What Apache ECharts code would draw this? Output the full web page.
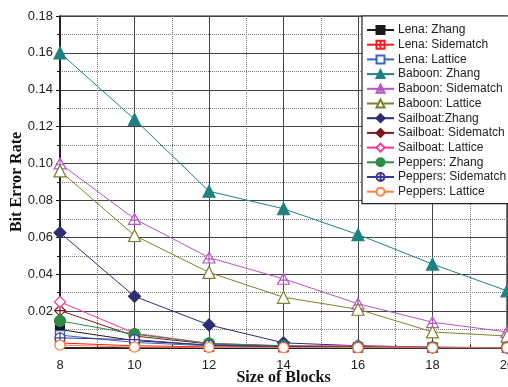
<!DOCTYPE html>
<html><head><meta charset="utf-8">
<script src="https://cdn.jsdelivr.net/npm/echarts@6/dist/echarts.min.js"></script>
<style>html,body{margin:0;padding:0;background:#fff}#c{width:508px;height:387px}</style>
</head><body><div id="c"></div>
<script>
var blockSizes = [8, 10, 12, 14, 16, 18, 20];
var lenaZhang = [0.0100, 0.0040, 0.0015, 0.0008, 0.0004, 0.0002, 0.0001];
var lenaSidematch = [0.0027, 0.0012, 0.0006, 0.0003, 0.0002, 0.0001, 0.0001];
var lenaLattice = [0.0070, 0.0030, 0.0012, 0.0006, 0.0003, 0.0002, 0.0001];
var baboonZhang = [0.160, 0.124, 0.085, 0.0755, 0.0615, 0.0455, 0.031];
var baboonSidematch = [0.100, 0.070, 0.049, 0.0375, 0.024, 0.014, 0.0087];
var baboonLattice = [0.096, 0.061, 0.041, 0.0275, 0.021, 0.0087, 0.0065];
var sailboatZhang = [0.0625, 0.028, 0.0125, 0.0028, 0.0012, 0.0004, 0.0002];
var sailboatSidematch = [0.0203, 0.0065, 0.0022, 0.0010, 0.0006, 0.0003, 0.0002];
var sailboatLattice = [0.0250, 0.0080, 0.0025, 0.0012, 0.0012, 0.0004, 0.0002];
var peppersZhang = [0.0147, 0.0075, 0.0025, 0.0012, 0.0006, 0.0003, 0.0002];
var peppersSidematch = [0.0055, 0.0045, 0.0015, 0.0008, 0.0004, 0.0002, 0.0001];
var peppersLattice = [0.0016, 0.0005, 0.0003, 0.0002, 0.0002, 0.0001, 0.0001];
var yTicks = [0.02, 0.04, 0.06, 0.08, 0.10, 0.12, 0.14, 0.16, 0.18];

var SQ_PLUS = 'path://M0,0H10V10H0Z M5,0V10 M0,5H10';
var TRI_PLUS = 'path://M5,0L10,9H0Z M5,0V9 M2,5.5H8';
var DIA_PLUS = 'path://M5,0L10,5L5,10L0,5Z M5,0V10 M0,5H10';
var CIR_PLUS = 'path://M5,0A5,5,0,1,1,4.99,0Z M5,0V10 M0,5H10';

function mk(name, data, color, symbol, filled, size) {
  return {
    name: name, type: 'line', data: data.map(function (v, i) { return [blockSizes[i], v]; }),
    symbol: symbol, symbolSize: size || 10, symbolKeepAspect: true,
    lineStyle: { color: color, width: 1 },
    itemStyle: { color: filled ? color : '#fff', borderColor: color, borderWidth: 1.2 },
    emphasis: { disabled: true }, animation: false
  };
}

var series = [
  mk('Lena: Zhang', lenaZhang, '#1a1a1a', 'rect', true, 9),
  mk('Lena: Sidematch', lenaSidematch, '#ff1a1a', SQ_PLUS, false, 9),
  mk('Lena: Lattice', lenaLattice, '#3a64c0', 'rect', false, 9),
  mk('Baboon: Zhang', baboonZhang, '#218181', 'triangle', true, 12),
  mk('Baboon: Sidematch', baboonSidematch, '#b455c0', TRI_PLUS, false, 12),
  mk('Baboon: Lattice', baboonLattice, '#7f7f2e', 'triangle', false, 12),
  mk('Sailboat:Zhang', sailboatZhang, '#2e2e72', 'diamond', true, 12),
  mk('Sailboat: Sidematch', sailboatSidematch, '#7a1a1a', DIA_PLUS, false, 11),
  mk('Sailboat: Lattice', sailboatLattice, '#ff3399', 'diamond', false, 11),
  mk('Peppers: Zhang', peppersZhang, '#2e8b46', 'circle', true, 11),
  mk('Peppers: Sidematch', peppersSidematch, '#3a3a96', CIR_PLUS, false, 10),
  mk('Peppers: Lattice', peppersLattice, '#ff8040', 'circle', false, 10)
];

var chart = echarts.init(document.getElementById('c'), null, { renderer: 'canvas' });
chart.setOption({
  animation: false,
  backgroundColor: '#fff',
  grid: { left: 60, right: 1, top: 16, bottom: 39, outerBoundsMode: 'none', containLabel: false, show: true, borderColor: '#222', borderWidth: 1.2, backgroundColor: 'transparent' },
  legend: {
    orient: 'vertical', left: 362, top: 16, padding: [8, 3, 6, 4],
    itemWidth: 27, itemHeight: 10, itemGap: 2.7,
    backgroundColor: '#fff', borderColor: '#222', borderWidth: 1.2,
    textStyle: { fontFamily: 'Liberation Sans', fontSize: 12, color: '#222', padding: [0, 0, 0, -1] },
    data: series.map(function (s) { return s.name; })
  },
  xAxis: {
    type: 'value', min: 8, max: 20, interval: 2,
    name: 'Size of Blocks', nameLocation: 'middle', nameGap: 30, nameMoveOverlap: false,
    nameTextStyle: { fontFamily: 'Liberation Serif', fontWeight: 'bold', fontSize: 16, color: '#111', verticalAlign: 'middle' },
    axisLine: { show: true, lineStyle: { color: '#111', width: 1.5 } },
    axisTick: { show: true, inside: true, length: 5, lineStyle: { color: '#111' } },
    minorTick: { show: true, splitNumber: 2, length: 3, lineStyle: { color: '#111' } },
    axisLabel: { fontFamily: 'Liberation Sans', fontSize: 13, color: '#222', margin: 11 },
    splitLine: { show: true, lineStyle: { color: '#444', width: 1 } },
    minorSplitLine: { show: true, lineStyle: { color: '#777', type: [1, 1], width: 1 } }
  },
  yAxis: {
    type: 'value', min: 0, max: 0.18, interval: 0.02,
    name: 'Bit Error Rate', nameLocation: 'middle', nameGap: 43, nameMoveOverlap: false,
    nameTextStyle: { fontFamily: 'Liberation Serif', fontWeight: 'bold', fontSize: 16, color: '#111', verticalAlign: 'middle' },
    axisLine: { show: true, lineStyle: { color: '#111', width: 1.5 } },
    axisTick: { show: true, inside: false, length: 4, lineStyle: { color: '#111' } },
    minorTick: { show: true, splitNumber: 2, length: 3, lineStyle: { color: '#111' } },
    axisLabel: {
      fontFamily: 'Liberation Sans', fontSize: 13, color: '#222', margin: 7, showMinLabel: false,
      formatter: function (v) { var t = yTicks.filter(function (k) { return Math.abs(k - v) < 1e-9; }); return t.length ? t[0].toFixed(2) : ''; }
    },
    splitLine: { show: true, lineStyle: { color: '#444', width: 1 } },
    minorSplitLine: { show: true, lineStyle: { color: '#777', type: [1, 1], width: 1 } }
  },
  series: series
});
</script>
</body></html>
